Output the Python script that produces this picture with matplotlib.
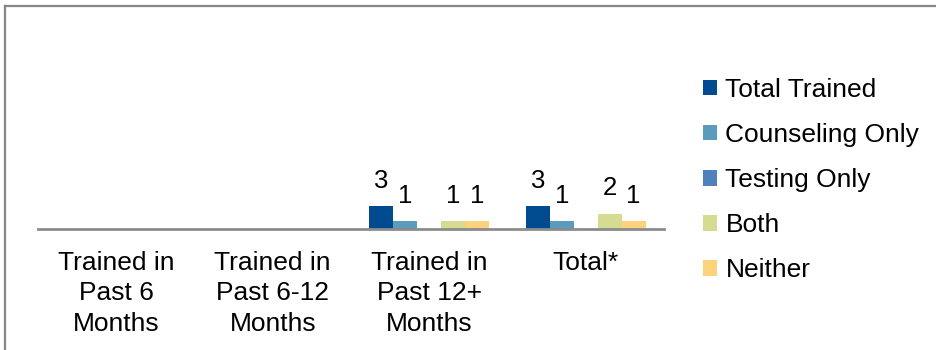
import matplotlib.pyplot as plt
import matplotlib.lines as mlines
import numpy as np

plt.rcParams['font.family'] = ['Liberation Sans', 'DejaVu Sans']

categories = ['Trained in\nPast 6\nMonths', 'Trained in\nPast 6-12\nMonths',
              'Trained in\nPast 12+\nMonths', 'Total*']
series = ['Total Trained', 'Counseling Only', 'Testing Only', 'Both', 'Neither']
# blank cells are None (Excel leaves them unlabelled)
total_trained = [None, None, 3, 3]
counseling_only = [None, None, 1, 1]
testing_only = [None, None, None, None]
both = [None, None, 1, 2]
neither = [None, None, 1, 1]

colors = ['#004A8F', '#5A9BBE', '#4F81BD', '#D5DC92', '#FDD27D']
values = [total_trained, counseling_only, testing_only, both, neither]

fig = plt.figure(figsize=(9.36, 3.5), dpi=100)
ax = fig.add_axes([38/936, 1 - 229/350, (664-38)/936, 209/350])

x = np.arange(len(categories))
w = 0.153
for i, (name, vals, c) in enumerate(zip(series, values, colors)):
    h = [v if v is not None else 0 for v in vals]
    pos = x + (i - 2) * w
    bars = ax.bar(pos, h, w, color=c, label=name)
    for b, v in zip(bars, vals):
        if v is not None:
            ax.annotate(str(v), (b.get_x() + b.get_width()/2, v),
                        xytext=(0, 9.5), textcoords='offset points',
                        ha='center', va='bottom', fontsize=18.5)

ax.set_xlim(-0.5, 3.5)
ax.set_ylim(0, 27.2)
ax.set_xticks(x)
ax.set_xticklabels(categories, fontsize=19, linespacing=1.33)
ax.tick_params(axis='x', length=0, pad=16)
ax.set_yticks([])
for s in ['top', 'right', 'left']:
    ax.spines[s].set_visible(False)
ax.spines['bottom'].set_color('#8C8C8C')
ax.spines['bottom'].set_linewidth(2)

ax.legend(loc='upper left', bbox_to_anchor=(703/936, 1 - 78/350),
          bbox_transform=fig.transFigure, frameon=False, fontsize=19,
          handlelength=0.52, handleheight=0.52, handletextpad=0.33,
          labelspacing=0.8, borderaxespad=0, borderpad=0)

# outer chart frame (only top and left edges show)
fig.add_artist(mlines.Line2D([4.5/936, 1], [1 - 5.5/350, 1 - 5.5/350],
                             color='#868686', lw=1.6, transform=fig.transFigure))
fig.add_artist(mlines.Line2D([4.5/936, 4.5/936], [0, 1 - 5.5/350],
                             color='#868686', lw=1.6, transform=fig.transFigure))

plt.savefig('out.png', dpi=100)
